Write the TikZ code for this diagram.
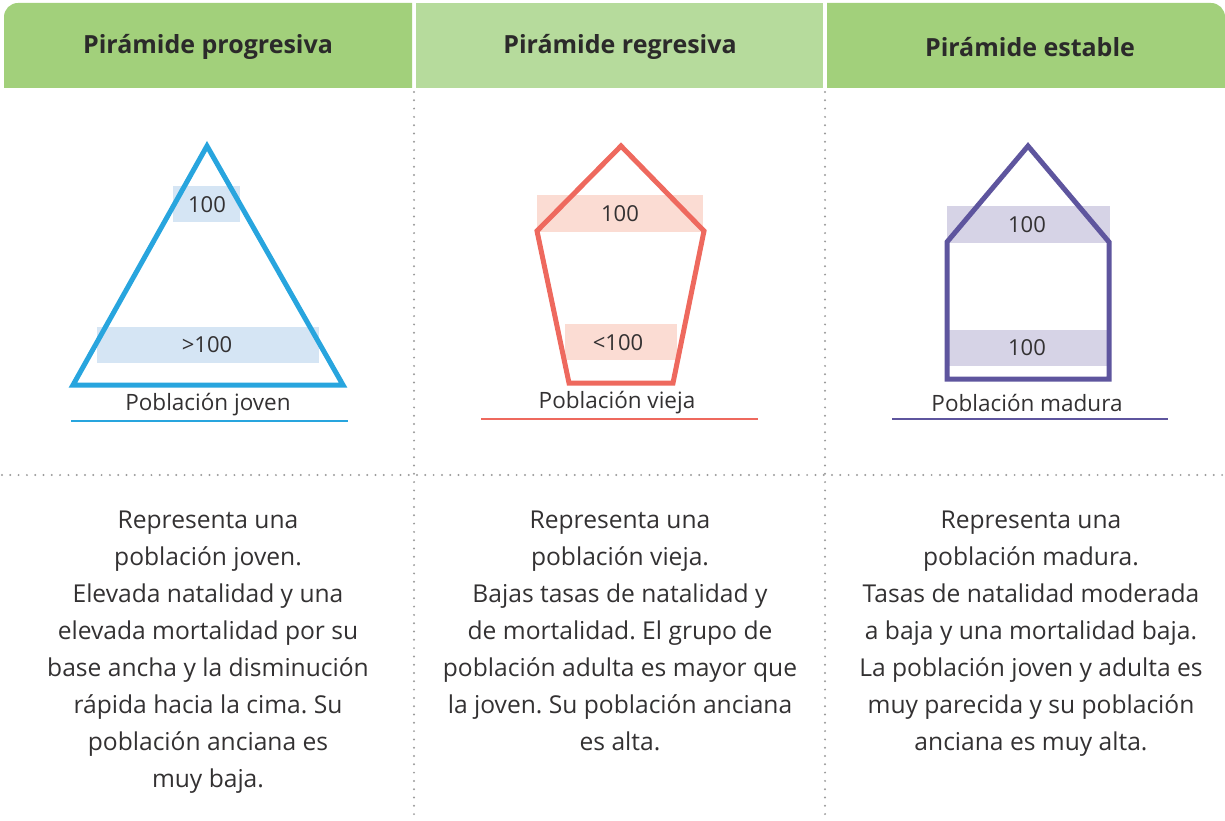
\documentclass[tikz,border=0pt]{standalone}
\usepackage{fontspec}
\setmainfont{Open Sans}
\frenchspacing
\definecolor{hdrA}{HTML}{A2D07B}
\definecolor{hdrB}{HTML}{B6DB9C}
\definecolor{txt}{HTML}{2B2A2A}
\definecolor{bodytxt}{HTML}{333132}
\definecolor{dotgray}{HTML}{9B9B9B}
\definecolor{pblue}{HTML}{28A5DE}
\definecolor{bblue}{HTML}{D5E5F4}
\definecolor{pred}{HTML}{EE695E}
\definecolor{bred}{HTML}{FBDCD3}
\definecolor{ppur}{HTML}{5E559E}
\definecolor{bpur}{HTML}{D6D3E6}
\tikzset{
  hdrtext/.style={font=\fontsize{25}{30}\selectfont\bfseries, text=txt},
  bodytext/.style={font=\fontsize{24.6}{36.9}\selectfont, text=bodytxt, align=center, anchor=base, inner sep=0pt},
  boxlabel/.style={font=\fontsize{22}{26}\selectfont, text=bodytxt, inner sep=0pt},
  caption/.style={font=\fontsize{22.5}{27}\selectfont, text=bodytxt, inner sep=0pt},
  dotline/.style={dotgray, line width=2.2pt, line cap=round, dash pattern=on 0pt off 8.3pt},
  pyr/.style={line width=5pt, line join=miter},
}
\begin{document}
\begin{tikzpicture}[x=1pt,y=-1pt]
\useasboundingbox (0,0) rectangle (1225,821);
% headers
\fill[hdrA] (4,88) [rounded corners=14pt] -- (4,3) [sharp corners] -- (412,3) -- (412,88) -- cycle;
\fill[hdrB] (416,3) rectangle (823,88);
\fill[hdrA] (827,88) -- (827,3) [rounded corners=14pt] -- (1225,3) [sharp corners] -- (1225,88) -- cycle;
\node[hdrtext] (h1) at (208,47) {Pirámide progresiva};
\node[hdrtext] (h2) at (620,47) {Pirámide regresiva};
\node[hdrtext] (h3) at (1030,47) {Pirámide estable};
% dotted separators
\draw[dotline] (414,92) -- (414,821);
\draw[dotline] (825,92) -- (825,821);
\draw[dotline] (2,475) -- (1225,475);
% pyramid 1
\fill[bblue] (173,186) rectangle (240,222);
\fill[bblue] (97,327) rectangle (319,363);
\draw[pblue,pyr] (207,146) -- (343,385) -- (73,385) -- cycle;
\node[boxlabel] (a1) at (207,205) {100};
\node[boxlabel] (a2) at (207,345) {>100};
\node[caption] (c1) at (208,405) {Población joven};
\draw[pblue, line width=1.8pt] (71,421) -- (348,421);
% pyramid 2
\fill[bred] (537,195) rectangle (703,232);
\fill[bred] (565,324) rectangle (677,360);
\draw[pred,pyr] (621,146) -- (704,231) -- (673,383) -- (569,383) -- (537,231) -- cycle;
\node[boxlabel] (b1) at (620,214) {100};
\node[boxlabel] (b2) at (618,343) {<100};
\node[caption] (c2) at (617,403) {Población vieja};
\draw[pred, line width=1.8pt] (481,419) -- (758,419);
% pyramid 3
\fill[bpur] (947,206) rectangle (1110,243);
\fill[bpur] (947,330) rectangle (1107,366);
\draw[ppur,pyr] (1028,146) -- (1109,242) -- (1109,379) -- (947,379) -- (947,242) -- cycle;
\node[boxlabel] (d1) at (1027,225) {100};
\node[boxlabel] (d2) at (1027,348) {100};
\node[caption] (c3) at (1027,403) {Población madura};
\draw[ppur, line width=1.8pt] (892,419) -- (1168,419);
% body texts (base anchor = baseline of last line)
\node[bodytext] (t1) at (208,787) {Representa una\\población joven.\\Elevada natalidad y una\\elevada mortalidad por su\\base ancha y la disminución\\rápida hacia la cima. Su\\población anciana es\\muy baja.};
\node[bodytext] (t2) at (620,750) {Representa una\\población vieja.\\Bajas tasas de natalidad y\\de mortalidad. El grupo de\\población adulta es mayor que\\la joven. Su población anciana\\es alta.};
\node[bodytext] (t3) at (1031,750) {Representa una\\población madura.\\Tasas de natalidad moderada\\a baja y una mortalidad baja.\\La población joven y adulta es\\muy parecida y su población\\anciana es muy alta.};
\end{tikzpicture}
\end{document}
